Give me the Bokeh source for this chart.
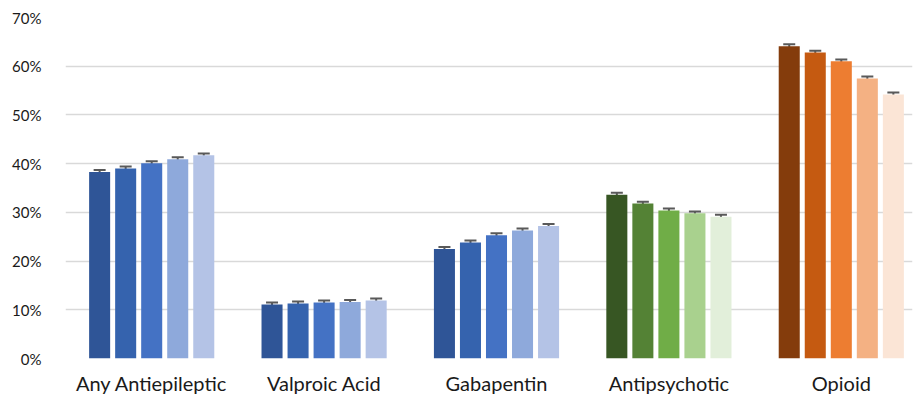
from bokeh.plotting import figure
from bokeh.models import ColumnDataSource, FixedTicker, PrintfTickFormatter, Whisker, Range1d, TeeHead
from bokeh.embed import file_html
from bokeh.resources import INLINE

# Share of patients with each medication class, five cohorts per class (%)
groups = ["Any Antiepileptic", "Valproic Acid", "Gabapentin", "Antipsychotic", "Opioid"]
antiepileptic = [38.3, 39.0, 40.1, 40.9, 41.7]
valproic = [11.1, 11.3, 11.5, 11.6, 11.9]
gabapentin = [22.5, 23.8, 25.3, 26.3, 27.2]
antipsychotic = [33.6, 31.8, 30.4, 29.8, 29.1]
opioid = [64.1, 62.8, 61.0, 57.5, 54.2]
errors = [0.4, 0.4, 0.4, 0.4, 0.4]

blues = ["#2F5597", "#3563AE", "#4472C4", "#8EA9DB", "#B4C3E6"]
greens = ["#375623", "#548235", "#70AD47", "#A9D18E", "#E2EFDA"]
oranges = ["#843C0C", "#C55A11", "#ED7D31", "#F4B183", "#FBE5D6"]

series = [antiepileptic, valproic, gabapentin, antipsychotic, opioid]
palettes = [blues, blues, blues, greens, oranges]

step = 0.151
bar_w = 0.122

xs, tops, cols, lo, hi = [], [], [], [], []
for gi, (vals, pal) in enumerate(zip(series, palettes)):
    for j, v in enumerate(vals):
        xs.append(gi + 0.5 + (j - 2) * step)
        tops.append(v)
        cols.append(pal[j])
        lo.append(v - errors[j])
        hi.append(v + errors[j])

src = ColumnDataSource(dict(x=xs, top=tops, color=cols, lower=lo, upper=hi))

p = figure(width=916, height=400, output_backend="svg", toolbar_location=None,
           x_range=Range1d(0, 4.913), y_range=Range1d(0, 70),
           min_border_left=65, min_border_right=4, min_border_top=17, min_border_bottom=42)
p.outline_line_color = None
p.background_fill_color = "white"

p.vbar(x="x", top="top", width=bar_w, color="color", source=src, line_color=None)

wh = Whisker(base="x", lower="lower", upper="upper", source=src,
             line_color="#595959", line_width=2,
             upper_head=TeeHead(size=12, line_color="#595959", line_width=2),
             lower_head=TeeHead(size=12, line_color="#595959", line_width=2))
p.add_layout(wh)

# y axis
p.yaxis.ticker = FixedTicker(ticks=list(range(0, 71, 10)))
p.yaxis.formatter = PrintfTickFormatter(format="%d%%")
p.yaxis.axis_line_color = None
p.yaxis.major_tick_line_color = None
p.yaxis.minor_tick_line_color = None
p.yaxis.major_label_text_font = "Lato"
p.yaxis.major_label_text_font_size = "15px"
p.yaxis.major_label_text_color = "#1A1A1A"
p.yaxis.major_label_standoff = 18

# x axis with category names at group centres
p.xaxis.ticker = FixedTicker(ticks=[i + 0.5 for i in range(len(groups))])
p.xaxis.major_label_overrides = {i + 0.5: g for i, g in enumerate(groups)}
p.xaxis.axis_line_color = None
p.xaxis.major_tick_line_color = None
p.xaxis.minor_tick_line_color = None
p.xaxis.major_label_text_font = "Lato"
p.xaxis.major_label_text_font_size = "20px"
p.xaxis.major_label_text_color = "#1A1A1A"
p.xaxis.major_label_standoff = 6

p.xgrid.grid_line_color = None
p.ygrid.grid_line_color = "#D9D9D9"
p.ygrid.grid_line_width = 1.5

open("out.html", "w").write(file_html(p, INLINE))
